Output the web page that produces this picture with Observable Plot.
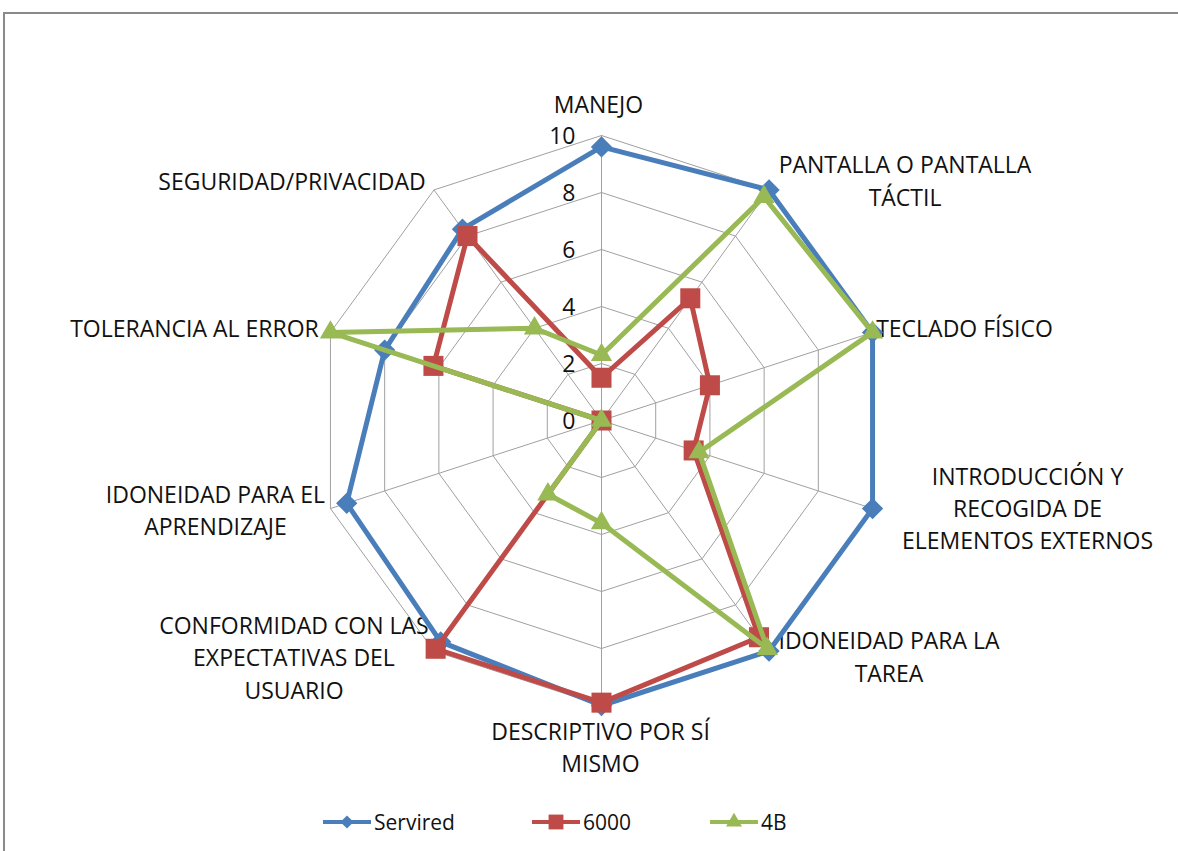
<!DOCTYPE html>
<html>
<head>
<meta charset="utf-8">
<script src="https://cdn.jsdelivr.net/npm/d3@7"></script>
<script src="https://cdn.jsdelivr.net/npm/@observablehq/plot@0.6"></script>
<style>
  html, body { margin: 0; padding: 0; background: #fff; }
  #wrap { position: relative; width: 1178px; height: 851px; overflow: hidden; font-family: "Open Sans", sans-serif; }
  #frame { position: absolute; left: 3px; top: 12px; width: 1400px; height: 1000px; border-left: 2px solid #8a8a8a; border-top: 2px solid #8a8a8a; box-sizing: border-box; }
  #chart { position: absolute; left: 0; top: 0; }
  #legend { position: absolute; left: 0; top: 800px; width: 1178px; height: 44px; }
  .item { position: absolute; top: 8px; display: flex; align-items: center; font-size: 21px; color: #111; }
  .item svg { display: block; margin-right: 3px; }
</style>
</head>
<body>
<div id="wrap">
  <div id="frame"></div>
  <div id="chart"></div>
  <div id="legend"></div>
</div>
<script>
// ---------- DATA ----------
const categories = [
  "MANEJO",
  "PANTALLA O PANTALLA\nTÁCTIL",
  "TECLADO FÍSICO",
  "INTRODUCCIÓN Y\nRECOGIDA DE\nELEMENTOS EXTERNOS",
  "IDONEIDAD PARA LA\nTAREA",
  "DESCRIPTIVO POR SÍ\nMISMO",
  "CONFORMIDAD CON LAS\nEXPECTATIVAS DEL\nUSUARIO",
  "IDONEIDAD PARA EL\nAPRENDIZAJE",
  "TOLERANCIA AL ERROR",
  "SEGURIDAD/PRIVACIDAD"
];
const seriesNames = ["Servired", "6000", "4B"];
const servired = [9.6, 10, 10, 10, 10, 10, 9.6, 9.4, 8.0, 8.3];
const s6000    = [1.5, 5.3, 4.0, 3.4, 9.4, 9.9, 9.9, 0, 6.2, 8.0];
const s4B      = [2.3, 9.7, 10, 3.6, 9.9, 3.6, 3.2, 0, 10, 4.0];
const tickValues = [0, 2, 4, 6, 8, 10];

// ---------- LAYOUT / STYLE ----------
const W = 1178, H = 800;
const cx = 601, cy = 420, pxPerUnit = 28.5;
const colors = ["#4A7EBB", "#BE4B48", "#98B954"];
const symbols = ["diamond2", "square", "triangle"];
const symbolR = [9.6, 11.3, 7.9];
const legendSymbols = [d3.symbolDiamond2, d3.symbolSquare, d3.symbolTriangle];
const legendSizes = [110, 220, 110];
const legendLeft = [323, 532, 710];
// label block centre offsets (px) from the outer vertex
const labelOffset = [[-3,-33],[136,-11],[92,-6],[155,-2],[120,4],[-1,40],[-140,5],[-115,0],[-136,-6],[-142,-10]];

const n = categories.length;
const ang = i => i * 2 * Math.PI / n;
const X = (v, i) => v * Math.sin(ang(i));
const Y = (v, i) => v * Math.cos(ang(i));
const maxV = d3.max(tickValues);

const allSeries = [servired, s6000, s4B];

// grid polygons
const gridData = [];
tickValues.filter(t => t > 0).forEach(t => {
  for (let i = 0; i <= n; i++) gridData.push({level: t, x: X(t, i % n), y: Y(t, i % n)});
});
const spokes = categories.map((c, i) => ({x2: X(maxV, i), y2: Y(maxV, i)}));

const labels = categories.map((c, i) => ({
  text: c,
  x: X(maxV, i) + labelOffset[i][0] / pxPerUnit,
  y: Y(maxV, i) - labelOffset[i][1] / pxPerUnit
}));

const seriesMarks = allSeries.flatMap((vals, s) => {
  const pts = vals.map((v, i) => ({x: X(v, i), y: Y(v, i)}));
  const closed = [...pts, pts[0]];
  return [
    Plot.line(closed, {x: "x", y: "y", stroke: colors[s], strokeWidth: 5, strokeLinejoin: "round"}),
    Plot.dot(pts, {x: "x", y: "y", symbol: symbols[s], r: symbolR[s], fill: colors[s], stroke: "none"})
  ];
});

const chart = Plot.plot({
  width: W, height: H, margin: 0,
  x: {axis: null, domain: [-cx / pxPerUnit, (W - cx) / pxPerUnit]},
  y: {axis: null, domain: [(cy - H) / pxPerUnit, cy / pxPerUnit]},
  style: {fontFamily: "Open Sans", fontSize: "23px", color: "#111", background: "transparent", overflow: "visible"},
  marks: [
    Plot.line(gridData, {x: "x", y: "y", z: "level", stroke: "#a0a0a0", strokeWidth: 1}),
    Plot.link(spokes, {x1: 0, y1: 0, x2: "x2", y2: "y2", stroke: "#a0a0a0", strokeWidth: 1}),
    Plot.text(tickValues, {x: 0, y: d => d, text: d => String(d), textAnchor: "end", dx: -26, dy: 1, fill: "#111", fontSize: 23}),
    Plot.text(labels, {x: "x", y: "y", text: "text", textAnchor: "middle", lineAnchor: "middle", lineHeight: 1.41, fill: "#111", fontSize: 23}),
    ...seriesMarks
  ]
});
document.getElementById("chart").appendChild(chart);

// legend
const legend = document.getElementById("legend");
seriesNames.forEach((name, s) => {
  const item = document.createElement("div");
  item.className = "item";
  item.style.left = legendLeft[s] + "px";
  const svg = d3.create("svg").attr("width", 48).attr("height", 24);
  svg.append("line").attr("x1", 0).attr("x2", 48).attr("y1", 12).attr("y2", 12)
    .attr("stroke", colors[s]).attr("stroke-width", 4);
  svg.append("path").attr("transform", "translate(24,12)")
    .attr("d", d3.symbol(legendSymbols[s], legendSizes[s])()).attr("fill", colors[s]);
  item.appendChild(svg.node());
  const t = document.createElement("span");
  t.textContent = name;
  item.appendChild(t);
  legend.appendChild(item);
});
</script>
</body>
</html>
